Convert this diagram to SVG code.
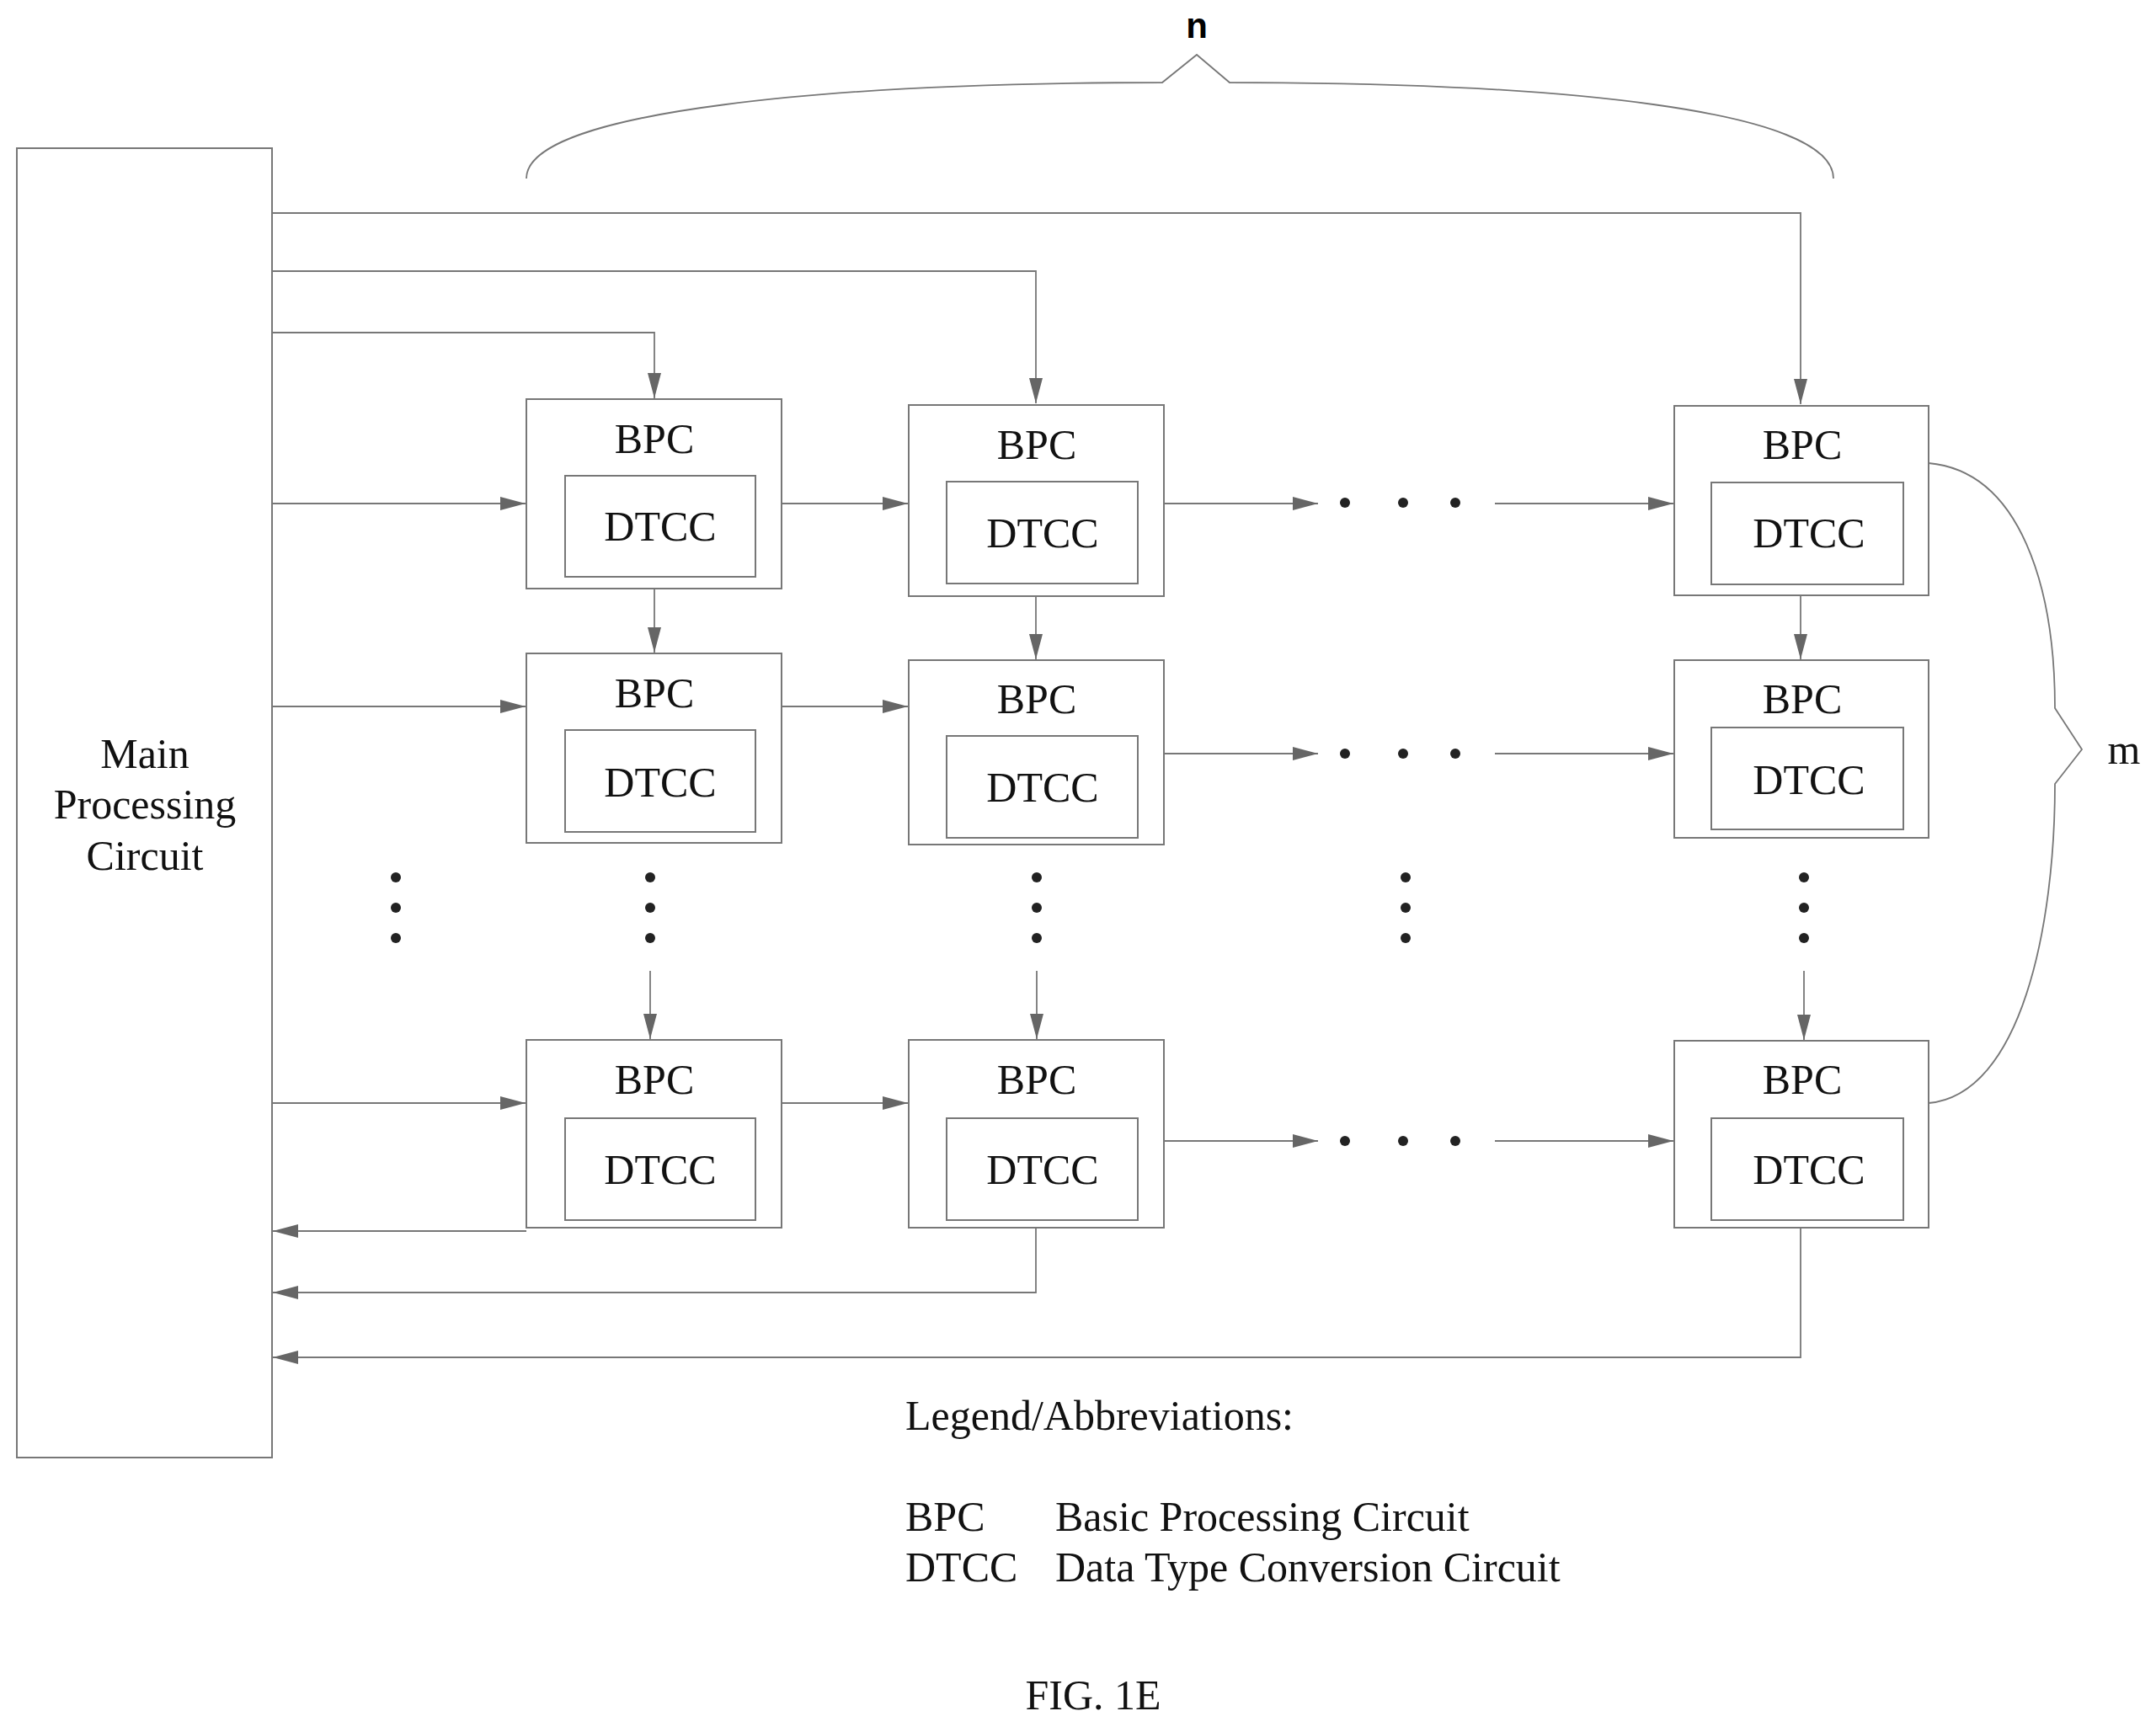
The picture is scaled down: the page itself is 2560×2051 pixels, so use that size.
<svg xmlns="http://www.w3.org/2000/svg" width="2560" height="2051" viewBox="0 0 2560 2051">
<style>
.b{fill:none;stroke:#777;stroke-width:2}
.c{fill:none;stroke:#777;stroke-width:1.8}
.t{font-family:"Liberation Serif",serif;font-size:50px;fill:#111;text-anchor:middle}
.l{font-family:"Liberation Serif",serif;font-size:50px;fill:#111}
.d{fill:#222}
</style>
<defs>
<marker id="a" viewBox="0 0 30 16" refX="30" refY="8" markerWidth="30" markerHeight="16" markerUnits="userSpaceOnUse" orient="auto"><path d="M0,0L30,8L0,16Z" fill="#666"/></marker>
</defs>
<rect x="0" y="0" width="2560" height="2051" fill="#fff"/>
<g id="main"><rect class="b" x="20" y="176" width="303" height="1555"/>
<text class="t" x="172" y="912">Main</text><text class="t" x="172" y="972">Processing</text><text class="t" x="172" y="1033">Circuit</text></g>
<g id="c1r1"><rect class="b" x="625" y="474" width="303" height="225"/><rect class="b" x="671" y="565" width="226" height="120"/><text class="t" x="777" y="538">BPC</text><text class="t" x="784" y="642">DTCC</text></g>
<g id="c1r2"><rect class="b" x="625" y="776" width="303" height="225"/><rect class="b" x="671" y="867" width="226" height="121"/><text class="t" x="777" y="840">BPC</text><text class="t" x="784" y="946">DTCC</text></g>
<g id="c1r3"><rect class="b" x="625" y="1235" width="303" height="223"/><rect class="b" x="671" y="1328" width="226" height="121"/><text class="t" x="777" y="1299">BPC</text><text class="t" x="784" y="1406">DTCC</text></g>
<g id="c2r1"><rect class="b" x="1079" y="481" width="303" height="227"/><rect class="b" x="1124" y="572" width="227" height="121"/><text class="t" x="1231" y="545">BPC</text><text class="t" x="1238" y="650">DTCC</text></g>
<g id="c2r2"><rect class="b" x="1079" y="784" width="303" height="219"/><rect class="b" x="1124" y="874" width="227" height="121"/><text class="t" x="1231" y="847">BPC</text><text class="t" x="1238" y="952">DTCC</text></g>
<g id="c2r3"><rect class="b" x="1079" y="1235" width="303" height="223"/><rect class="b" x="1124" y="1328" width="227" height="121"/><text class="t" x="1231" y="1299">BPC</text><text class="t" x="1238" y="1406">DTCC</text></g>
<g id="cnr1"><rect class="b" x="1988" y="482" width="302" height="225"/><rect class="b" x="2032" y="573" width="228" height="121"/><text class="t" x="2140" y="545">BPC</text><text class="t" x="2148" y="650">DTCC</text></g>
<g id="cnr2"><rect class="b" x="1988" y="784" width="302" height="211"/><rect class="b" x="2032" y="864" width="228" height="121"/><text class="t" x="2140" y="847">BPC</text><text class="t" x="2148" y="943">DTCC</text></g>
<g id="cnr3"><rect class="b" x="1988" y="1236" width="302" height="222"/><rect class="b" x="2032" y="1328" width="228" height="121"/><text class="t" x="2140" y="1299">BPC</text><text class="t" x="2148" y="1406">DTCC</text></g>
<g id="connectors" class="c">
<polyline points="323,253 2138,253 2138,480" marker-end="url(#a)"/>
<polyline points="323,322 1230,322 1230,479" marker-end="url(#a)"/>
<polyline points="323,395 777,395 777,473" marker-end="url(#a)"/>
<line x1="323" y1="598" x2="624" y2="598" marker-end="url(#a)"/>
<line x1="928" y1="598" x2="1078" y2="598" marker-end="url(#a)"/>
<line x1="1382" y1="598" x2="1565" y2="598" marker-end="url(#a)"/>
<line x1="1775" y1="598" x2="1987" y2="598" marker-end="url(#a)"/>
<line x1="323" y1="839" x2="624" y2="839" marker-end="url(#a)"/>
<line x1="928" y1="839" x2="1078" y2="839" marker-end="url(#a)"/>
<line x1="1382" y1="895" x2="1565" y2="895" marker-end="url(#a)"/>
<line x1="1775" y1="895" x2="1987" y2="895" marker-end="url(#a)"/>
<line x1="323" y1="1310" x2="624" y2="1310" marker-end="url(#a)"/>
<line x1="928" y1="1310" x2="1078" y2="1310" marker-end="url(#a)"/>
<line x1="1382" y1="1355" x2="1565" y2="1355" marker-end="url(#a)"/>
<line x1="1775" y1="1355" x2="1987" y2="1355" marker-end="url(#a)"/>
<line x1="777" y1="699" x2="777" y2="775" marker-end="url(#a)"/>
<line x1="1230" y1="708" x2="1230" y2="783" marker-end="url(#a)"/>
<line x1="2138" y1="707" x2="2138" y2="783" marker-end="url(#a)"/>
<line x1="772" y1="1153" x2="772" y2="1234" marker-end="url(#a)"/>
<line x1="1231" y1="1153" x2="1231" y2="1234" marker-end="url(#a)"/>
<line x1="2142" y1="1153" x2="2142" y2="1235" marker-end="url(#a)"/>
<polyline points="625,1462 324,1462" marker-end="url(#a)"/>
<polyline points="1230,1458 1230,1535 324,1535" marker-end="url(#a)"/>
<polyline points="2138,1458 2138,1612 324,1612" marker-end="url(#a)"/>
<path d="M625,212 C625,130 1000,98 1380,98 L1421,65 L1460,98 C1850,98 2177,130 2177,212"/>
<path d="M2290,550 C2400,560 2440,700 2440,841 L2472,890 L2440,931 C2440,1100 2400,1300 2290,1310"/>
</g>
<g class="d">
<circle cx="1597" cy="597" r="6"/><circle cx="1666" cy="597" r="6"/><circle cx="1728" cy="597" r="6"/>
<circle cx="1597" cy="895" r="6"/><circle cx="1666" cy="895" r="6"/><circle cx="1728" cy="895" r="6"/>
<circle cx="1597" cy="1355" r="6"/><circle cx="1666" cy="1355" r="6"/><circle cx="1728" cy="1355" r="6"/>
<circle cx="470" cy="1042" r="6"/><circle cx="470" cy="1078" r="6"/><circle cx="470" cy="1114" r="6"/>
<circle cx="772" cy="1042" r="6"/><circle cx="772" cy="1078" r="6"/><circle cx="772" cy="1114" r="6"/>
<circle cx="1231" cy="1042" r="6"/><circle cx="1231" cy="1078" r="6"/><circle cx="1231" cy="1114" r="6"/>
<circle cx="1669" cy="1042" r="6"/><circle cx="1669" cy="1078" r="6"/><circle cx="1669" cy="1114" r="6"/>
<circle cx="2142" cy="1042" r="6"/><circle cx="2142" cy="1078" r="6"/><circle cx="2142" cy="1114" r="6"/>
</g>
<text x="1421" y="45" font-family="Liberation Sans,sans-serif" font-weight="bold" font-size="42" text-anchor="middle">n</text>
<text class="t" x="2522" y="907" font-size="56">m</text>
<text class="l" x="1075" y="1698">Legend/Abbreviations:</text>
<text class="l" x="1075" y="1818">BPC</text><text class="l" x="1253" y="1818">Basic Processing Circuit</text>
<text class="l" x="1075" y="1878">DTCC</text><text class="l" x="1253" y="1878">Data Type Conversion Circuit</text>
<text class="l" x="1298" y="2030" text-anchor="middle">FIG. 1E</text>
</svg>
